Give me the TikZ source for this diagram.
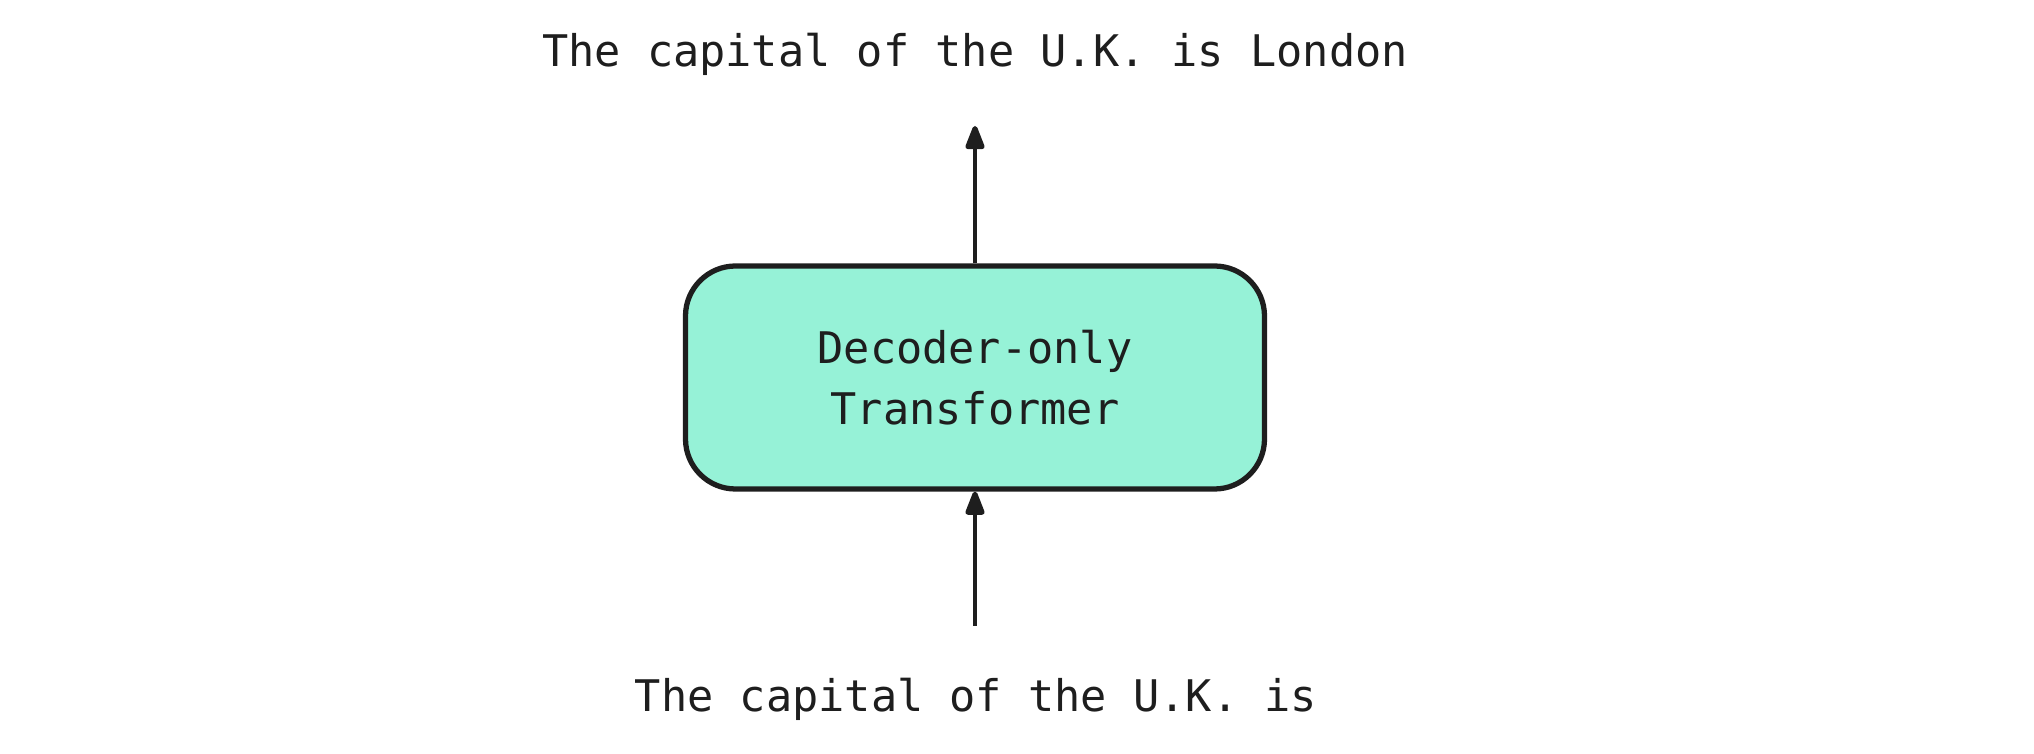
\documentclass[tikz,border=0pt]{standalone}
\usepackage{fontspec}
\setmonofont{DejaVu Sans Mono}
\usetikzlibrary{arrows.meta}

\definecolor{inkblack}{HTML}{1E1E1E}
\definecolor{boxteal}{HTML}{96F2D7}

\tikzset{
  sketchtext/.style={font=\ttfamily\fontsize{12.4}{17.3}\selectfont, text=inkblack, inner sep=0pt},
  modelbox/.style={draw=inkblack, line width=1.5pt, fill=boxteal, rounded corners=0.5cm,
    minimum width=5.79cm, minimum height=2.23cm, align=center},
  flow/.style={draw=inkblack, line width=1.4pt, -{Triangle[length=0.28cm,width=0.2cm,round]}}
}

\begin{document}
\begin{tikzpicture}
    \useasboundingbox (0,0) rectangle (20.34,-7.54);
    \node[modelbox, sketchtext] (model) at (9.75,-3.775) {Decoder-only\\Transformer};
    \node[sketchtext, anchor=base] (output) at (9.75,-0.67) {The capital of the U.K. is London};
    \node[sketchtext, anchor=base] (input) at (9.76,-7.12) {The capital of the U.K. is};
    \coordinate (outtip) at (9.75,-1.26);
    \coordinate (instart) at (9.75,-6.26);
    \draw[flow] (model.north) -- (outtip);
    \draw[flow] (instart) -- (model.south);
\end{tikzpicture}
\end{document}
